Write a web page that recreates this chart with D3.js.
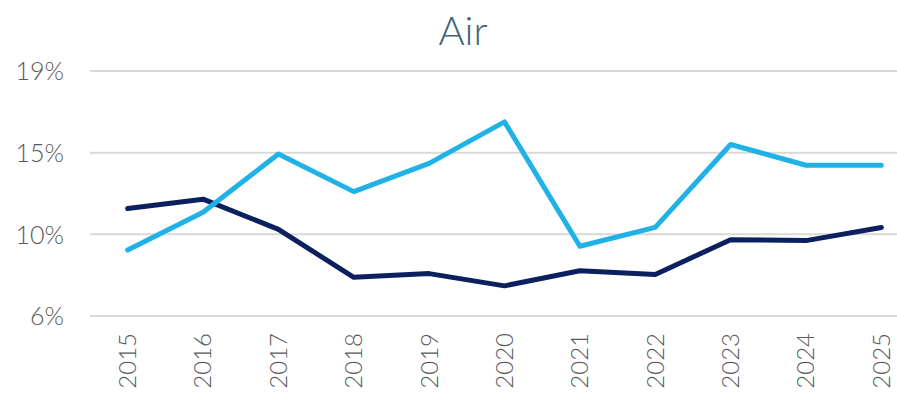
<!DOCTYPE html>
<html>
<head>
<meta charset="utf-8">
<script src="https://cdn.jsdelivr.net/npm/d3@7"></script>
<style>
  body { margin: 0; background: #fff; }
  svg text { font-family: Lato, "Open Sans", sans-serif; }
</style>
</head>
<body>
<svg id="chart"></svg>
<script>
// chart values
var years = ["2015","2016","2017","2018","2019","2020","2021","2022","2023","2024","2025"];
var lightSeries = [9.5, 11.5, 14.6, 12.6, 14.1, 16.3, 9.7, 10.7, 15.1, 14.0, 14.0];
var darkSeries = [11.7, 12.2, 10.6, 8.05, 8.25, 7.6, 8.4, 8.2, 10.05, 10.0, 10.7];
var yTicks = [6, 10.333, 14.667, 19];
var title_ = "Air";

var width = 897, height = 404;
var svg = d3.select("#chart").attr("width", width).attr("height", height);

var x = d3.scaleBand()
          .domain(years)
          .range([90, 919]);

var y = d3.scaleLinear()
          .domain([6, 19])
          .range([316, 71]);

// gridlines
svg.append("g")
   .selectAll("line")
   .data(yTicks)
   .enter()
   .append("line")
   .attr("x1", 90)
   .attr("x2", width)
   .attr("y1", function (d) { return y(d); })
   .attr("y2", function (d) { return y(d); })
   .attr("stroke", "#d9d9d9")
   .attr("stroke-width", 2);

// y axis labels
var yAxis = d3.axisLeft(y)
              .tickValues(yTicks)
              .tickSize(0)
              .tickPadding(0)
              .tickFormat(function (d) { return Math.round(d) + "%"; });

var gy = svg.append("g")
            .attr("transform", "translate(64,0)")
            .call(yAxis);
gy.select(".domain").remove();
gy.selectAll("text")
  .attr("fill", "#595959")
  .style("font-size", "25px")
  .style("font-weight", 300)
  .attr("dy", "0.35em");

// x axis labels
var xAxis = d3.axisBottom(x).tickSize(0).tickPadding(0);
var gx = svg.append("g")
            .attr("transform", "translate(0,333)")
            .call(xAxis);
gx.select(".domain").remove();
gx.selectAll("text")
  .attr("transform", "rotate(-90)")
  .attr("text-anchor", "end")
  .attr("x", 0)
  .attr("y", 0)
  .attr("dy", "0.35em")
  .attr("fill", "#595959")
  .style("font-size", "24px")
  .style("font-weight", 300);

var line = d3.line()
             .x(function (d, i) { return x(years[i]) + x.bandwidth() / 2; })
             .y(function (d) { return y(d); });

svg.append("path")
   .datum(darkSeries)
   .attr("d", line)
   .attr("fill", "none")
   .attr("stroke", "#0b215f")
   .attr("stroke-width", 5)
   .attr("stroke-linejoin", "round")
   .attr("stroke-linecap", "round");

svg.append("path")
   .datum(lightSeries)
   .attr("d", line)
   .attr("fill", "none")
   .attr("stroke", "#20b1e6")
   .attr("stroke-width", 5)
   .attr("stroke-linejoin", "round")
   .attr("stroke-linecap", "round");

svg.append("text")
   .attr("x", 463)
   .attr("y", 45)
   .attr("text-anchor", "middle")
   .attr("fill", "#3f6476")
   .style("font-size", "40px")
   .style("font-weight", 300)
   .text(title_);
</script>
</body>
</html>
